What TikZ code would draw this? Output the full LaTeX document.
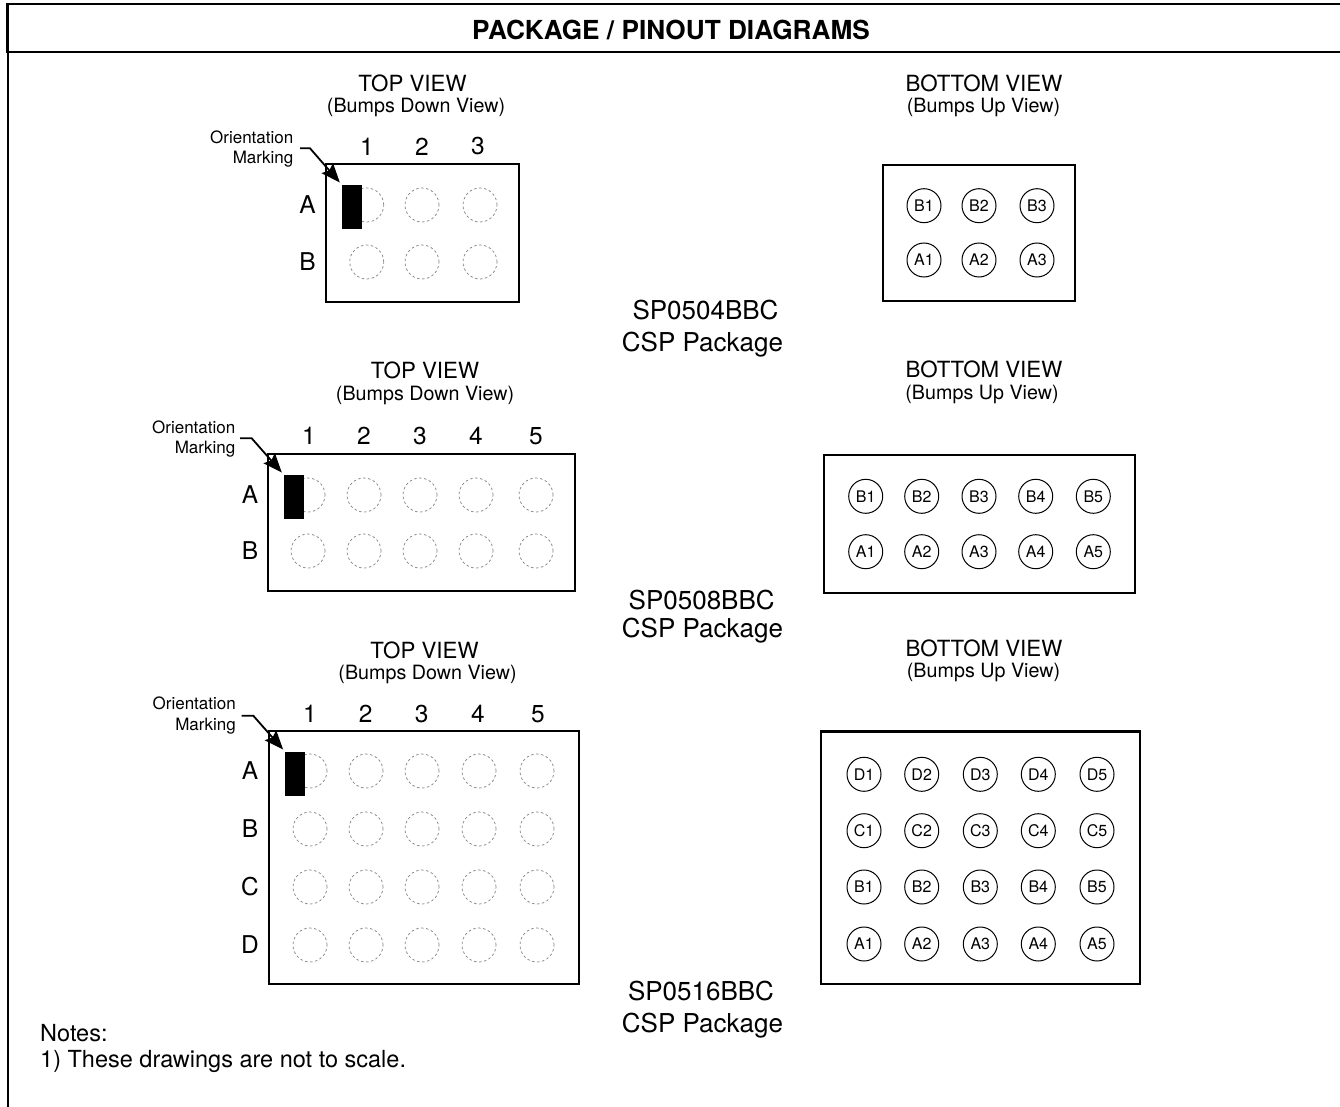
\documentclass[tikz,border=0pt]{standalone}
\usepackage{fontspec}
\setmainfont{TeX Gyre Heros}
\usetikzlibrary{arrows.meta}
\tikzset{
  pkg/.style={draw=black,line width=2.2pt},
  rule/.style={draw=black,line width=2pt},
  bumpdash/.style={circle,draw=black!50,line width=0.7pt,dash pattern=on 2.5pt off 2.5pt,minimum size=34pt,inner sep=0pt},
  ball/.style={circle,draw=black,line width=1pt,minimum size=34pt,inner sep=0pt,font=\fontsize{16}{16}\selectfont},
  idx/.style={inner sep=0pt,font=\fontsize{24.5}{24.5}\selectfont},
  viewhead/.style={inner sep=0pt,font=\fontsize{22.3}{22.3}\selectfont},
  viewsub/.style={inner sep=0pt,font=\fontsize{19.7}{19.7}\selectfont},
  orient/.style={inner sep=0pt,align=right,font=\fontsize{17}{20.5}\selectfont},
  pkgname/.style={inner sep=0pt,anchor=base,font=\fontsize{26}{26}\selectfont},
  notetext/.style={inner sep=0pt,anchor=west,font=\fontsize{23.5}{23.5}\selectfont},
  marker/.style={fill=black,draw=none,inner sep=0pt,minimum width=20pt,minimum height=44pt},
  pointer/.style={draw=black,line width=1.8pt,shorten >=3pt,-{Stealth[length=19pt,width=15pt,inset=3pt]}}
}
\begin{document}
\begin{tikzpicture}[x=1pt,y=-1pt]
\useasboundingbox (0,0) rectangle (1340,1107);
\fill[white] (0,0) rectangle (1340,1107);
% frame
\draw[rule] (6,4.3) -- (1340,4.3);
\draw[rule] (6,52) -- (1340,52);
\draw[rule,line width=2.7pt] (7.35,3.3) -- (7.35,53);
\draw[rule] (7.9,52) -- (7.9,1107);
\node[inner sep=0pt,font=\bfseries\fontsize{26.2}{26.2}\selectfont] (title) at (671,30) {PACKAGE / PINOUT DIAGRAMS};

% ---------- SP0504 top
\node[viewhead] (t1h) at (412.5,83) {TOP VIEW};
\node[viewsub] (t1s) at (416,107.5) {(Bumps Down View)};
\draw[pkg] (326,164) rectangle (519,302);
\foreach \n/\x/\c in {1/366.7/367,2/422/422,3/480/478}{
  \node[idx] (t1c\n) at (\c,146.5) {\n};
  \foreach \r/\y in {A/205,B/262}{ \node[bumpdash] (t1\r\n) at (\x,\y) {}; }
}
\node[idx] (t1ra) at (307.5,204.5) {A};
\node[idx] (t1rb) at (307.5,262) {B};
\node[marker] (t1m) at (352,207) {};
\node[orient,anchor=east] (t1o) at (293.5,149) {Orientation\\Marking};
\coordinate (t1a) at (300,148.3);
\coordinate (t1e) at (310,148.3);
\draw[pointer] (t1a) -- (t1e) -- (t1m.north west);

% ---------- SP0504 bottom
\node[viewhead] (b1h) at (984,83) {BOTTOM VIEW};
\node[viewsub] (b1s) at (983.5,107) {(Bumps Up View)};
\draw[pkg] (883,165) rectangle (1075,301);
\foreach \n/\x in {1/924,2/979,3/1037}{
  \foreach \r/\y in {B/205.7,A/260}{ \node[ball] (b1\r\n) at (\x,\y) {\r\n}; }
}
\node[pkgname] (p1a) at (705.5,319) {SP0504BBC};
\node[pkgname] (p1b) at (702.5,351) {CSP Package};

% ---------- SP0508 top
\node[viewhead] (t2h) at (425,370) {TOP VIEW};
\node[viewsub] (t2s) at (425,395.5) {(Bumps Down View)};
\draw[pkg] (268,454) rectangle (575,591);
\foreach \n/\x/\c in {1/308/309,2/364/364,3/420/420,4/476/476,5/536/536}{
  \node[idx] (t2c\n) at (\c,436) {\n};
  \foreach \r/\y in {A/495,B/551}{ \node[bumpdash] (t2\r\n) at (\x,\y) {}; }
}
\node[idx] (t2ra) at (250,494.5) {A};
\node[idx] (t2rb) at (250,551) {B};
\node[marker] (t2m) at (294,497) {};
\node[orient,anchor=east] (t2o) at (235.5,439) {Orientation\\Marking};
\coordinate (t2a) at (240,438.3);
\coordinate (t2e) at (251.7,438.3);
\draw[pointer] (t2a) -- (t2e) -- (t2m.north west);

% ---------- SP0508 bottom
\node[viewhead] (b2h) at (984,369.5) {BOTTOM VIEW};
\node[viewsub] (b2s) at (982,394.5) {(Bumps Up View)};
\draw[pkg] (824,455) rectangle (1135,593);
\foreach \n/\x in {1/865.7,2/921.7,3/979,4/1035.7,5/1093.3}{
  \foreach \r/\y in {B/496.3,A/551.7}{ \node[ball] (b2\r\n) at (\x,\y) {\r\n}; }
}
\node[pkgname] (p2a) at (701.7,609) {SP0508BBC};
\node[pkgname] (p2b) at (702.5,637) {CSP Package};

% ---------- SP0516 top
\node[viewhead] (t3h) at (424.5,650) {TOP VIEW};
\node[viewsub] (t3s) at (427.5,674) {(Bumps Down View)};
\draw[pkg] (269,731) rectangle (579,984);
\foreach \n/\x/\c in {1/310/310,2/366/365.7,3/422/421.7,4/479/478,5/537/538}{
  \node[idx] (t3c\n) at (\c,714) {\n};
  \foreach \r/\y in {A/771,B/829,C/887,D/945}{ \node[bumpdash] (t3\r\n) at (\x,\y) {}; }
}
\node[idx] (t3ra) at (250,771) {A};
\node[idx] (t3rb) at (250,829) {B};
\node[idx] (t3rc) at (250,887) {C};
\node[idx] (t3rd) at (250,945) {D};
\node[marker] (t3m) at (295.3,774) {};
\node[orient,anchor=east] (t3o) at (236,715.5) {Orientation\\Marking};
\coordinate (t3a) at (241.7,715.7);
\coordinate (t3e) at (253.3,715.7);
\draw[pointer] (t3a) -- (t3e) -- (t3m.north west);

% ---------- SP0516 bottom
\node[viewhead] (b3h) at (984,648.3) {BOTTOM VIEW};
\node[viewsub] (b3s) at (983.5,672.7) {(Bumps Up View)};
\draw[pkg] (821,731.5) rectangle (1140,984);
\foreach \n/\x in {1/864,2/921.7,3/980.3,4/1038.3,5/1097}{
  \foreach \r/\y in {D/774.3,C/830.7,B/887,A/944}{ \node[ball] (b3\r\n) at (\x,\y) {\r\n}; }
}
\node[pkgname] (p3a) at (701,1000.7) {SP0516BBC};
\node[pkgname] (p3b) at (702.5,1032) {CSP Package};

% notes
\node[notetext] (n1) at (40,1033) {Notes:};
\node[notetext] (n2) at (40,1061.5) {1) These drawings are not to scale.};
\end{tikzpicture}
\end{document}
